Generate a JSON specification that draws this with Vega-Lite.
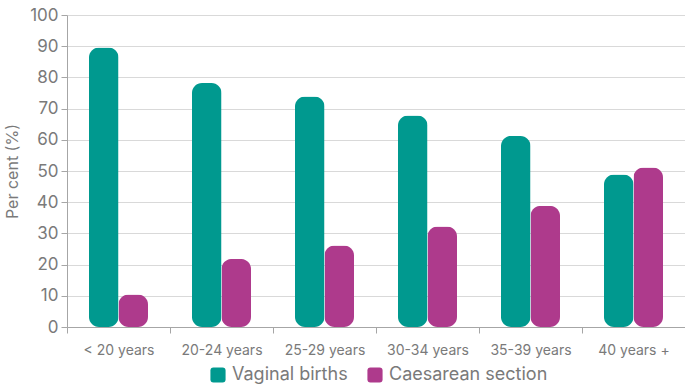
{
  "$schema": "https://vega.github.io/schema/vega-lite/v6.json",
  "width": 618,
  "height": 312,
  "autosize": {"type": "none"},
  "padding": {"left": 67, "top": 15, "right": 0, "bottom": 60},
  "background": "white",
  "config": {
    "font": "Inter",
    "view": {"stroke": null},
    "axis": {"labelColor": "#7a7a7a", "titleColor": "#7a7a7a", "domainColor": "#a6a6a6", "tickColor": "#a6a6a6", "gridColor": "#d9d9d9"}
  },
  "data": {
    "values": [
      {"age": "< 20 years", "type": "Vaginal births", "pct": 89.6},
      {"age": "< 20 years", "type": "Caesarean section", "pct": 10.4},
      {"age": "20-24 years", "type": "Vaginal births", "pct": 78.2},
      {"age": "20-24 years", "type": "Caesarean section", "pct": 21.8},
      {"age": "25-29 years", "type": "Vaginal births", "pct": 73.9},
      {"age": "25-29 years", "type": "Caesarean section", "pct": 26.1},
      {"age": "30-34 years", "type": "Vaginal births", "pct": 67.8},
      {"age": "30-34 years", "type": "Caesarean section", "pct": 32.2},
      {"age": "35-39 years", "type": "Vaginal births", "pct": 61.2},
      {"age": "35-39 years", "type": "Caesarean section", "pct": 38.8},
      {"age": "40 years +", "type": "Vaginal births", "pct": 48.9},
      {"age": "40 years +", "type": "Caesarean section", "pct": 51.1}
    ]
  },
  "mark": {"type": "bar", "cornerRadius": 10},
  "encoding": {
    "x": {
      "field": "age",
      "type": "nominal",
      "sort": null,
      "scale": {"paddingInner": 0, "paddingOuter": 0},
      "axis": {
        "title": null,
        "labelAngle": 0,
        "labelFontSize": 14,
        "labelPadding": 10,
        "tickBand": "extent",
        "tickSize": 6,
        "grid": false
      }
    },
    "xOffset": {
      "field": "type",
      "sort": ["Vaginal births", "Caesarean section"],
      "scale": {"paddingInner": 0, "paddingOuter": 0.745}
    },
    "y": {
      "field": "pct",
      "type": "quantitative",
      "scale": {"domain": [0, 100], "nice": false},
      "axis": {
        "title": "Per cent (%)",
        "titleFontSize": 16,
        "titleFontWeight": "normal",
        "titlePadding": 9,
        "values": [0, 10, 20, 30, 40, 50, 60, 70, 80, 90, 100],
        "labelFontSize": 17,
        "labelPadding": 3,
        "tickSize": 6,
        "grid": true,
        "domain": true
      }
    },
    "color": {
      "field": "type",
      "type": "nominal",
      "sort": ["Vaginal births", "Caesarean section"],
      "scale": {"domain": ["Vaginal births", "Caesarean section"], "range": ["#00998f", "#ae3a8c"]},
      "legend": {
        "title": null,
        "orient": "none",
        "legendX": 142,
        "legendY": 351,
        "direction": "horizontal",
        "labelFontSize": 18,
        "labelColor": "#7a7a7a",
        "symbolType": "M-1,-0.6Q-1,-1,-0.6,-1L0.6,-1Q1,-1,1,-0.6L1,0.6Q1,1,0.6,1L-0.6,1Q-1,1,-1,0.6Z",
        "symbolSize": 230,
        "symbolStrokeWidth": 0,
        "columnPadding": 18,
        "labelOffset": 5
      }
    }
  }
}
